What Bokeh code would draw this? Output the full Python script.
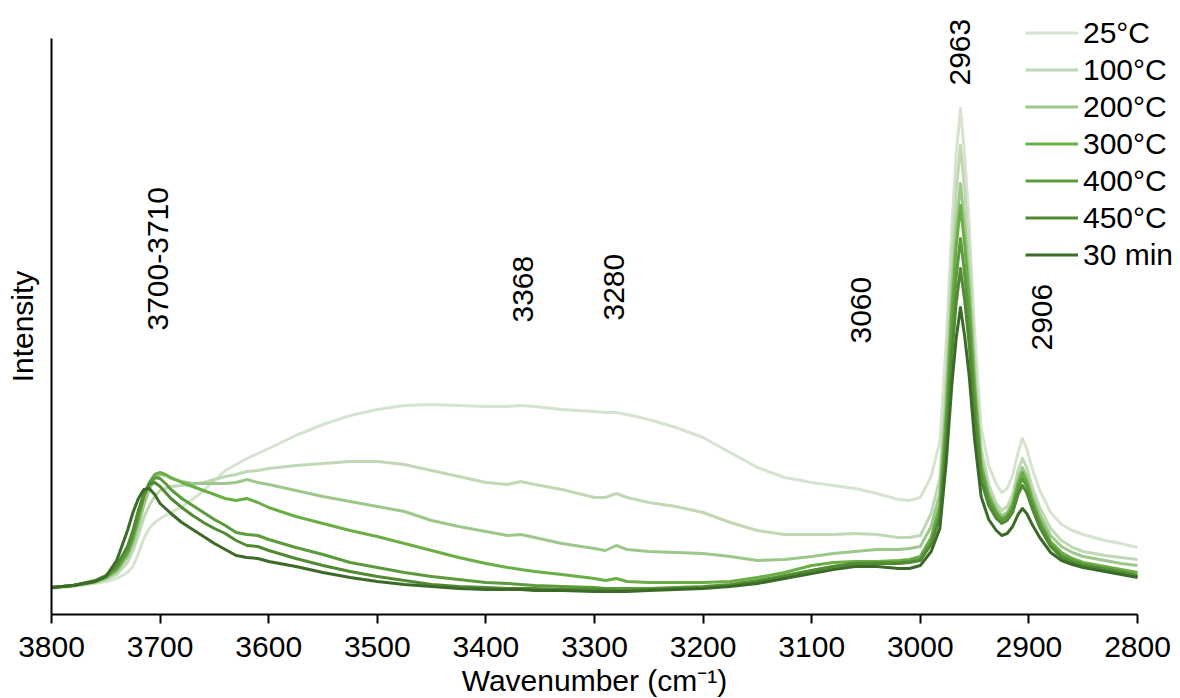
import math

from bokeh.core.properties import value
from bokeh.embed import file_html
from bokeh.models import FixedTicker, Legend, LegendItem, Range1d
from bokeh.plotting import figure
from bokeh.resources import INLINE

# Wavenumber grid (cm-1), shared by all spectra
wavenumber = [
    3800, 3780, 3760, 3750, 3740, 3730, 3725, 3720, 3715, 3710,
    3705, 3700, 3695, 3690, 3680, 3670, 3660, 3650, 3640, 3630,
    3620, 3610, 3600, 3575, 3550, 3525, 3500, 3475, 3450, 3425,
    3400, 3380, 3368, 3355, 3330, 3300, 3290, 3280, 3270, 3250,
    3225, 3200, 3175, 3150, 3125, 3100, 3080, 3060, 3040, 3020,
    3010, 3000, 2990, 2982, 2976, 2971, 2967, 2963, 2959, 2955,
    2950, 2944, 2937, 2930, 2925, 2920, 2915, 2910, 2906, 2902,
    2897, 2890, 2880, 2870, 2860, 2850, 2830, 2815, 2800,
]

# Intensities (a.u.)
int_25c = [
    26, 28, 31, 33, 36, 42, 48, 61, 76, 86,
    92, 96, 99, 102, 108, 115, 124, 134, 144, 150,
    156, 161, 166, 179, 190, 199, 205, 209, 210, 209,
    208, 208, 209, 208, 205, 203, 202, 202, 200, 195,
    187, 177, 162, 147, 137, 132, 129, 126, 121, 115,
    114, 117, 138, 173, 275, 388, 459, 506, 456, 391,
    283, 187, 149, 130, 122, 126, 139, 162, 176, 166,
    146, 124, 102, 90, 84, 80, 74, 71, 67,
]
int_100c = [
    27, 29, 32, 35, 40, 52, 64, 79, 97, 109,
    118, 124, 126, 128, 129, 130, 132, 135, 138, 140,
    143, 144, 146, 149, 151, 153, 153, 150, 144, 138,
    132, 130, 133, 130, 125, 117, 117, 121, 117, 112,
    108, 102, 92, 84, 80, 80, 80, 81, 80, 77,
    77, 79, 101, 136, 238, 351, 422, 469, 422, 360,
    257, 166, 130, 111, 104, 108, 120, 144, 156, 147,
    128, 107, 86, 74, 67, 63, 59, 57, 55,
]
int_200c = [
    27, 29, 32, 36, 43, 58, 71, 89, 109, 125,
    136, 140, 139, 136, 133, 131, 131, 131, 131, 132,
    135, 132, 130, 124, 118, 113, 108, 103, 94, 88,
    83, 79, 80, 77, 71, 66, 64, 69, 65, 63,
    62, 61, 58, 54, 55, 58, 61, 63, 65, 65,
    66, 68, 88, 121, 216, 322, 387, 431, 388, 331,
    238, 155, 122, 106, 99, 102, 113, 136, 147, 138,
    120, 100, 79, 68, 62, 58, 54, 51, 49,
]
int_300c = [
    27, 29, 33, 37, 45, 61, 76, 96, 117, 132,
    140, 142, 140, 137, 132, 128, 124, 120, 116, 114,
    116, 112, 107, 98, 91, 84, 78, 71, 64, 57,
    51, 47, 45, 43, 40, 36, 34, 36, 33, 32,
    32, 32, 33, 37, 42, 49, 52, 53, 53, 54,
    55, 58, 77, 109, 201, 303, 367, 409, 368, 315,
    227, 149, 118, 102, 96, 99, 109, 131, 142, 133,
    115, 94, 73, 62, 56, 52, 48, 45, 42,
]
int_400c = [
    27, 29, 33, 38, 47, 64, 79, 99, 118, 131,
    137, 136, 131, 125, 116, 109, 102, 95, 89, 82,
    80, 79, 75, 67, 60, 52, 47, 42, 38, 35,
    32, 31, 30, 29, 28, 27, 26, 26, 26, 26,
    27, 28, 30, 34, 39, 44, 48, 51, 52, 52,
    53, 55, 72, 101, 185, 279, 337, 376, 339, 291,
    212, 142, 114, 100, 94, 97, 106, 126, 136, 128,
    111, 91, 70, 59, 54, 50, 46, 43, 39,
]
int_450c = [
    27, 29, 34, 39, 49, 68, 84, 104, 121, 130,
    132, 128, 122, 116, 107, 99, 92, 86, 81, 74,
    69, 68, 64, 56, 49, 43, 38, 34, 30, 28,
    27, 26, 26, 26, 25, 25, 25, 24, 24, 25,
    26, 27, 29, 33, 38, 44, 48, 51, 51, 51,
    52, 54, 70, 96, 173, 258, 311, 346, 313, 270,
    198, 134, 109, 96, 91, 94, 102, 120, 129, 122,
    106, 87, 68, 57, 52, 49, 45, 42, 38,
]
int_30min = [
    27, 29, 33, 38, 54, 84, 102, 116, 125, 126,
    120, 111, 106, 101, 92, 85, 78, 71, 65, 59,
    57, 56, 53, 48, 42, 37, 33, 30, 28, 26,
    25, 25, 25, 24, 24, 23, 23, 23, 23, 24,
    25, 26, 28, 31, 36, 41, 45, 48, 48, 46,
    46, 49, 63, 86, 154, 229, 276, 307, 277, 239,
    175, 118, 95, 84, 79, 81, 88, 100, 106, 101,
    90, 77, 62, 54, 50, 47, 43, 40, 37,
]

series_names = ["25°C", "100°C", "200°C", "300°C", "400°C", "450°C", "30 min"]
series_values = [int_25c, int_100c, int_200c, int_300c, int_400c, int_450c, int_30min]
series_colors = ["#d6e4cf", "#c0d8b4", "#9ec78b", "#6aae45", "#5c9b3c", "#518a33", "#3c6a28"]

# Band assignments written along the spectrum
band_text = ["3700-3710", "3368", "3280", "3060", "2963", "2906"]
band_wn = [3702, 3366, 3282, 3055, 2963, 2888]
band_label_y = [284, 292, 294, 271, 529, 264]

FONT = "Liberation Sans"

# Canvas geometry: the plotting frame fills the whole canvas and the axes are
# pinned at fixed data locations, so the legend and the top label can sit
# outside the axis box without being clipped.
W, H = 1180, 698
AX_LEFT, AX_RIGHT, AX_TOP, AX_BOTTOM = 51, 1137, 38, 614
X_MAX, X_MIN = 3800, 2800
Y_MAX = 576
px_per_x = (AX_RIGHT - AX_LEFT) / (X_MAX - X_MIN)
px_per_y = (AX_BOTTOM - AX_TOP) / Y_MAX

x_range = Range1d(X_MAX + AX_LEFT / px_per_x, X_MIN - (W - AX_RIGHT) / px_per_x)
y_range = Range1d(-(H - AX_BOTTOM) / px_per_y, Y_MAX + AX_TOP / px_per_y)

p = figure(
    width=W, height=H, x_range=x_range, y_range=y_range,
    output_backend="svg", toolbar_location=None,
    min_border=0, min_border_left=0, min_border_right=0,
    min_border_top=0, min_border_bottom=0,
)
p.outline_line_color = None
p.xgrid.visible = False
p.ygrid.visible = False
p.background_fill_color = "white"
p.border_fill_color = "white"

xa = p.xaxis[0]
xa.fixed_location = 0
xa.bounds = (X_MIN, X_MAX)
xa.ticker = FixedTicker(ticks=[3800, 3700, 3600, 3500, 3400, 3300, 3200, 3100, 3000, 2900, 2800])
xa.minor_tick_line_color = None
xa.major_tick_in = 0
xa.major_tick_out = 9
xa.major_tick_line_width = 2
xa.major_tick_line_color = "black"
xa.axis_line_width = 2
xa.axis_line_color = "black"
xa.major_label_text_font = FONT
xa.major_label_text_font_size = "30px"
xa.major_label_text_color = "black"
xa.major_label_standoff = 13
xa.axis_label = "Wavenumber (cm⁻¹)"
xa.axis_label_text_font = FONT
xa.axis_label_text_font_size = "30px"
xa.axis_label_text_font_style = "normal"
xa.axis_label_text_color = "black"
xa.axis_label_standoff = 4

ya = p.yaxis[0]
ya.fixed_location = X_MAX
ya.bounds = (0, Y_MAX)
ya.ticker = FixedTicker(ticks=[])
ya.minor_tick_line_color = None
ya.major_tick_line_color = None
ya.axis_line_width = 2
ya.axis_line_color = "black"
ya.axis_label = "Intensity"
ya.axis_label_text_font = FONT
ya.axis_label_text_font_size = "30px"
ya.axis_label_text_font_style = "normal"
ya.axis_label_text_color = "black"
ya.axis_label_standoff = 13

items = []
for name, vals, color in zip(series_names, series_values, series_colors):
    r = p.line(wavenumber, vals, line_color=color, line_width=3, line_join="round")
    items.append(LegendItem(label=name, renderers=[r]))

legend = Legend(
    items=items, location=(1025, 425), orientation="vertical",
    glyph_width=53, glyph_height=37, label_height=37, label_standoff=5,
    spacing=0, padding=0, margin=0,
    border_line_color=None, background_fill_alpha=0,
    label_text_font=FONT, label_text_font_size="30px", label_text_color="black",
)
p.add_layout(legend)

p.text(
    x=band_wn, y=band_label_y, text=band_text, angle=math.pi / 2,
    text_align="left", text_baseline="middle",
    text_font=value(FONT), text_font_size=value("30px"), text_color="black",
)

open("out.html", "w").write(file_html(p, INLINE))
